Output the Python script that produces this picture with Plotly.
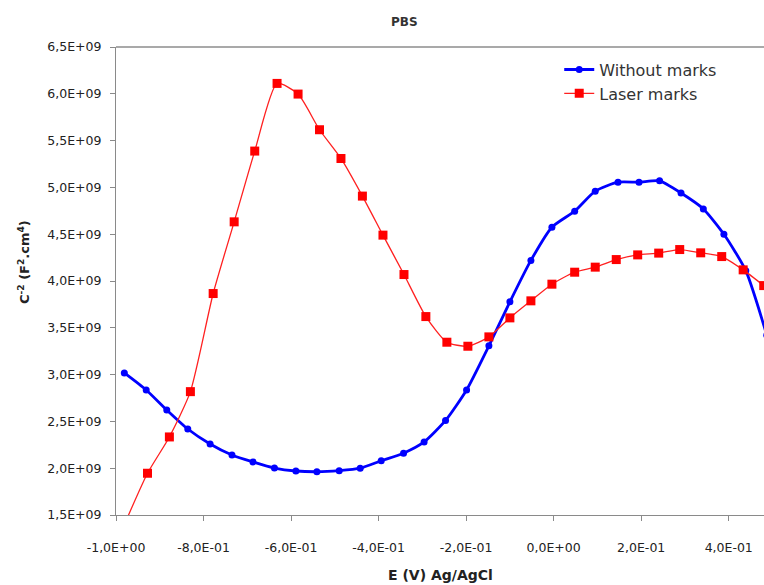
import plotly.graph_objects as go

# Without marks (blue)
x_without = [-0.981, -0.931, -0.884, -0.836, -0.785, -0.735, -0.687, -0.638, -0.589, -0.541,
             -0.490, -0.442, -0.394, -0.343, -0.296, -0.247, -0.199, -0.148, -0.100, -0.052,
             -0.004, 0.048, 0.095, 0.147, 0.195, 0.242, 0.291, 0.342, 0.389, 0.439, 0.487]
y_without = [3.018, 2.836, 2.622, 2.419, 2.259, 2.141, 2.067, 2.002, 1.970, 1.962,
             1.974, 2.000, 2.080, 2.160, 2.280, 2.510, 2.836, 3.307, 3.777, 4.220,
             4.575, 4.746, 4.960, 5.056, 5.056, 5.070, 4.940, 4.770, 4.500, 4.110, 3.420]
y_without = [v * 1e9 for v in y_without]

# Laser marks (red)
x_laser = [-0.976, -0.928, -0.878, -0.830, -0.778, -0.730, -0.683, -0.632, -0.584, -0.535,
           -0.486, -0.437, -0.390, -0.342, -0.292, -0.244, -0.196, -0.148, -0.100, -0.052,
           -0.004, 0.048, 0.095, 0.143, 0.192, 0.240, 0.288, 0.336, 0.384, 0.433, 0.480]
y_laser = [1.450, 1.946, 2.334, 2.818, 3.866, 4.632, 5.388, 6.111, 5.997, 5.616,
           5.309, 4.907, 4.490, 4.069, 3.620, 3.346, 3.303, 3.403, 3.606, 3.788,
           3.966, 4.094, 4.148, 4.229, 4.279, 4.298, 4.336, 4.301, 4.261, 4.119, 3.951]
y_laser = [v * 1e9 for v in y_laser]

y_tickvals = [1.5e9, 2.0e9, 2.5e9, 3.0e9, 3.5e9, 4.0e9, 4.5e9, 5.0e9, 5.5e9, 6.0e9, 6.5e9]
y_ticktext = ["1,5E+09", "2,0E+09", "2,5E+09", "3,0E+09", "3,5E+09", "4,0E+09",
              "4,5E+09", "5,0E+09", "5,5E+09", "6,0E+09", "6,5E+09"]
x_tickvals = [-1.0, -0.8, -0.6, -0.4, -0.2, 0.0, 0.2, 0.4]
x_ticktext = ["-1,0E+00", "-8,0E-01", "-6,0E-01", "-4,0E-01", "-2,0E-01",
              "0,0E+00", "2,0E-01", "4,0E-01"]

fig = go.Figure()
fig.add_trace(go.Scatter(
    x=x_without, y=y_without, name="Without marks", mode="lines+markers",
    line=dict(color="#0000FF", width=2.8, shape="spline", smoothing=0.6),
    marker=dict(symbol="circle", size=7, color="#0000FF"),
))
fig.add_trace(go.Scatter(
    x=x_laser, y=y_laser, name="Laser marks", mode="lines+markers",
    line=dict(color="#FF2020", width=1.3, shape="spline", smoothing=0.6),
    marker=dict(symbol="square", size=9, color="#FF0000"),
))

pw, ph = 764 - 116 - 0, 585 - 47 - 70
def px2paper(px, py):
    return (px - 116) / pw, (515 - py) / ph

fig.update_layout(
    width=764, height=585,
    margin=dict(l=116, r=0, t=47, b=70),
    paper_bgcolor="white", plot_bgcolor="white",
    font=dict(family="DejaVu Sans", color="#222222"),
    showlegend=True,
    legend=dict(x=0.684, y=0.988, xanchor="left", yanchor="top",
                font=dict(size=16, color="#333333"), bgcolor="rgba(0,0,0,0)",
                tracegroupgap=0, itemwidth=30),
)

ax, ay = px2paper(404, 22)
fig.add_annotation(text="<b>PBS</b>", x=ax, y=ay, xref="paper", yref="paper",
                   showarrow=False, xanchor="center", yanchor="middle",
                   font=dict(size=12, color="#333333"))
tx, ty = px2paper(440, 575)
fig.add_annotation(text="<b>E (V) Ag/AgCl</b>", x=tx, y=ty, xref="paper", yref="paper",
                   showarrow=False, xanchor="center", yanchor="middle",
                   font=dict(size=14, color="#222222"))
yx, yy = px2paper(24, 262)
fig.add_annotation(text="<b>C<sup>-2</sup> (F<sup>2</sup>.cm<sup>4</sup>)</b>", x=yx, y=yy,
                   xref="paper", yref="paper", showarrow=False, textangle=-90,
                   xanchor="center", yanchor="middle",
                   font=dict(size=13, color="#222222"))

fig.update_xaxes(range=[-1.0, 0.4806], tickvals=x_tickvals, ticktext=x_ticktext,
                 showgrid=False, zeroline=False, showline=True, linecolor="#8a8a8a",
                 linewidth=1, ticks="outside", ticklen=5, tickcolor="#8a8a8a",
                 ticklabelstandoff=16,
                 tickfont=dict(size=12.5, color="#222222"))
fig.update_yaxes(range=[1.5e9, 6.5e9], tickvals=y_tickvals, ticktext=y_ticktext,
                 showgrid=False, zeroline=False, showline=True, linecolor="#8a8a8a",
                 linewidth=1, ticks="outside", ticklen=5, tickcolor="#8a8a8a",
                 ticklabelstandoff=6,
                 tickfont=dict(size=12.5, color="#222222"))
fig.add_shape(type="line", xref="paper", yref="paper", x0=0, x1=1, y0=1, y1=1,
              line=dict(color="#555555", width=1.2))

fig.write_html("out.html")
